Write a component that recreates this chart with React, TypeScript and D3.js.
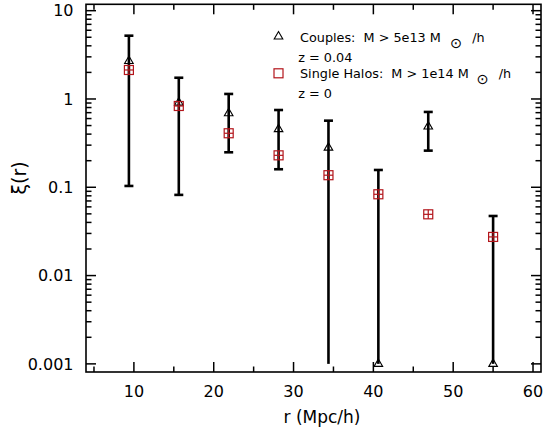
import React from "react";
import * as d3 from "d3";

const rValues = [9.375, 15.625, 21.875, 28.125, 34.375, 40.625, 46.875, 55];
const couples = [2.69, 0.91, 0.69, 0.455, 0.281, 0.001, 0.487, 0.001];
const couplesHi = [5.21, 1.74, 1.14, 0.75, 0.568, 0.157, 0.713, 0.0473];
const couplesLo = [0.1035, 0.082, 0.249, 0.16, 0.001, 0.001, 0.26, 0.001];
const singleHalos = [2.13, 0.833, 0.409, 0.23, 0.137, 0.0833, 0.0494, 0.0274];

const xTicks = [10, 20, 30, 40, 50, 60];
const xMinorTicks = [5, 15, 25, 35, 45, 55];
const yTicks = [10, 1, 0.1, 0.01, 0.001];
const yTickLabels = ["10", "1", "0.1", "0.01", "0.001"];

const W = 557;
const H = 436;
const L = 86, R = 541, T = 4.3, B = 372;
const RED = "#b3151b";
const FONT = "'DejaVu Sans', Verdana, sans-serif";

export default function App() {
  const x = d3.scaleLinear().domain([4, 61]).range([L, R]);
  const y = d3.scaleLog().domain([0.000809, 11.81]).range([B, T]);

  const yMinor: number[] = [];
  for (let e = -3; e < 1; e++) {
    for (let k = 2; k <= 9; k++) yMinor.push(k * Math.pow(10, e));
  }

  const tri = d3.symbol().type(d3.symbolTriangle).size(32)() as string;
  const sq = 4.5;
  const cap = 4.5;
  const MAJ = 10, MIN = 5.5;
  const legStyle = { whiteSpace: "pre" as const };

  return (
    <svg width={W} height={H} style={{ position: "absolute", left: 0, top: 0, display: "block", background: "#fff" }}
      fontFamily={FONT}>
      <rect x={0} y={0} width={W} height={H} fill="#fff" />
      {/* ticks */}
      <g stroke="#000" strokeWidth={1.5}>
        {xTicks.map((t) => (
          <g key={"xt" + t}>
            <line x1={x(t)} x2={x(t)} y1={B} y2={B - MAJ} />
            <line x1={x(t)} x2={x(t)} y1={T} y2={T + MAJ} />
          </g>
        ))}
        {xMinorTicks.map((t) => (
          <g key={"xm" + t}>
            <line x1={x(t)} x2={x(t)} y1={B} y2={B - MIN} />
            <line x1={x(t)} x2={x(t)} y1={T} y2={T + MIN} />
          </g>
        ))}
        {yTicks.map((t) => (
          <g key={"yt" + t}>
            <line x1={L} x2={L + MAJ} y1={y(t)} y2={y(t)} />
            <line x1={R} x2={R - MAJ} y1={y(t)} y2={y(t)} />
          </g>
        ))}
        {yMinor.map((t) => (
          <g key={"ym" + t}>
            <line x1={L} x2={L + MIN} y1={y(t)} y2={y(t)} />
            <line x1={R} x2={R - MIN} y1={y(t)} y2={y(t)} />
          </g>
        ))}
      </g>
      <rect x={L} y={T} width={R - L} height={B - T} fill="none" stroke="#000" strokeWidth={1.6} />

      {/* tick labels */}
      <g fontSize={16} fill="#000">
        {xTicks.map((t) => (
          <text key={"xl" + t} x={x(t)} y={396.5} textAnchor="middle">{t}</text>
        ))}
        {yTicks.map((t, i) => (
          <text key={"yl" + t} x={73.5} y={y(t)} dy="0.36em" textAnchor="end">{yTickLabels[i]}</text>
        ))}
      </g>
      <text x={322} y={423} fontSize={17} textAnchor="middle">r (Mpc/h)</text>
      <text transform={`translate(26,178) rotate(-90)`} fontSize={19} textAnchor="middle">ξ(r)</text>

      {/* error bars */}
      <g stroke="#000" strokeWidth={2.6}>
        {rValues.map((r, i) => {
          const cx = x(r);
          return (
            <g key={"eb" + i}>
              <line x1={cx} x2={cx} y1={y(couplesHi[i])} y2={y(couplesLo[i])} />
              <line x1={cx - cap} x2={cx + cap} y1={y(couplesHi[i])} y2={y(couplesHi[i])} />
              {couplesLo[i] > 0.001 && (
                <line x1={cx - cap} x2={cx + cap} y1={y(couplesLo[i])} y2={y(couplesLo[i])} />
              )}
            </g>
          );
        })}
      </g>
      {/* couples triangles */}
      <g fill="none" stroke="#000" strokeWidth={1.1}>
        {rValues.map((r, i) => (
          <path key={"tr" + i} d={tri} transform={`translate(${x(r)},${y(couples[i])})`} />
        ))}
      </g>
      {/* single halos squares */}
      <g fill="none" stroke={RED} strokeWidth={1.2}>
        {rValues.map((r, i) => {
          const cx = x(r), cy = y(singleHalos[i]);
          return (
            <g key={"sq" + i}>
              <rect x={cx - sq} y={cy - sq} width={2 * sq} height={2 * sq} />
              <line x1={cx - sq} x2={cx + sq} y1={cy} y2={cy} />
              <line x1={cx} x2={cx} y1={cy - sq} y2={cy + sq} />
            </g>
          );
        })}
      </g>

      {/* legend */}
      <path d={tri} transform="translate(278.5,36.5)" fill="none" stroke="#000" strokeWidth={1.1} />
      <rect x={278.5 - sq} y={73.3 - sq} width={2 * sq} height={2 * sq} fill="none" stroke={RED} strokeWidth={1.2} />
      <g fontSize={12.8} fill="#000">
        <text x={300} y={41.7} style={legStyle} xmlSpace="preserve">Couples:  M &gt; 5e13 M</text>
        <text x={456} y={47.7} fontSize={14.5} textAnchor="middle">⊙</text>
        <text x={472.3} y={41.7} style={legStyle}>/h</text>
        <text x={298.3} y={61.5} style={legStyle} xmlSpace="preserve">z = 0.04</text>
        <text x={300} y={78.3} style={legStyle} xmlSpace="preserve">Single Halos:  M &gt; 1e14 M</text>
        <text x={482.5} y={84} fontSize={14.5} textAnchor="middle">⊙</text>
        <text x={498.7} y={78.3} style={legStyle}>/h</text>
        <text x={298.3} y={98.3} style={legStyle} xmlSpace="preserve">z = 0</text>
      </g>
    </svg>
  );
}
